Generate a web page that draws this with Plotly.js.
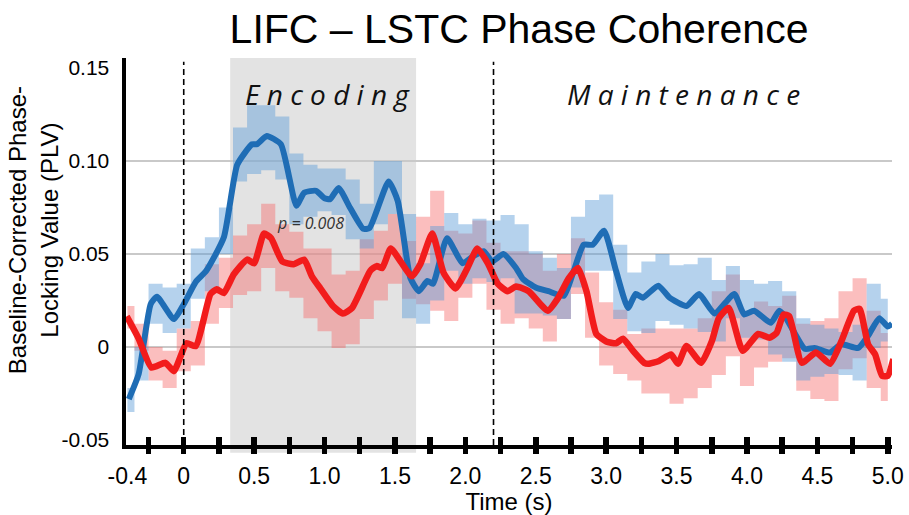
<!DOCTYPE html>
<html>
<head>
<meta charset="utf-8">
<script src="https://cdn.plot.ly/plotly-3.0.1.min.js"></script>
<style>html,body{margin:0;padding:0;background:#fff;}#chart{width:909px;height:515px;}</style>
</head>
<body>
<div id="chart"></div>
<script>
// Mean lines (time in s, PLV)
const blueT = [-0.39,-0.32,-0.235,-0.19,-0.07,0,0.085,0.16,0.285,0.38,0.485,0.52,0.59,0.69,0.80,0.855,0.94,1.0,1.04,1.10,1.18,1.275,1.32,1.455,1.52,1.61,1.67,1.73,1.77,1.87,1.98,2.06,2.13,2.19,2.27,2.36,2.41,2.50,2.59,2.70,2.77,2.84,2.905,2.985,3.07,3.155,3.21,3.26,3.37,3.45,3.57,3.66,3.77,3.91,3.98,4.05,4.17,4.23,4.27,4.41,4.48,4.59,4.67,4.79,4.86,4.94,5.0,5.03];
const blueV = [-0.028,-0.0145,0.023,0.027,0.015,0.023,0.035,0.041,0.059,0.098,0.109,0.109,0.1135,0.109,0.076,0.083,0.084,0.080,0.0795,0.0855,0.075,0.0635,0.064,0.089,0.0785,0.037,0.030,0.0355,0.034,0.0585,0.045,0.049,0.0515,0.046,0.050,0.0425,0.0365,0.032,0.030,0.0275,0.041,0.055,0.055,0.0625,0.041,0.021,0.0285,0.0265,0.033,0.0265,0.022,0.0285,0.018,0.0285,0.0175,0.0195,0.013,0.0195,0.0165,-0.001,-0.0005,-0.003,0.0015,-0.0005,0.006,0.0155,0.011,0.0125];
const redT = [-0.405,-0.32,-0.23,-0.13,-0.07,0.02,0.085,0.19,0.235,0.285,0.355,0.45,0.50,0.57,0.62,0.70,0.78,0.855,0.91,0.97,1.06,1.13,1.195,1.325,1.37,1.41,1.47,1.54,1.62,1.68,1.765,1.845,1.93,2.015,2.085,2.16,2.23,2.30,2.36,2.45,2.585,2.66,2.735,2.80,2.86,2.93,3.0,3.07,3.12,3.19,3.27,3.30,3.375,3.46,3.51,3.57,3.675,3.75,3.80,3.87,3.97,4.08,4.16,4.21,4.26,4.30,4.39,4.49,4.59,4.67,4.76,4.80,4.86,4.91,4.96,5.0,5.04];
const redV = [0.0165,0.0045,-0.011,-0.0085,-0.013,0.002,0.0005,0.0285,0.031,0.029,0.039,0.047,0.045,0.061,0.0585,0.046,0.0445,0.047,0.038,0.0315,0.022,0.018,0.021,0.041,0.0435,0.0425,0.053,0.046,0.038,0.0445,0.061,0.040,0.0315,0.0425,0.053,0.045,0.034,0.030,0.0325,0.030,0.0195,0.0265,0.037,0.0425,0.030,0.007,0.003,0.002,0.0045,-0.002,-0.0085,-0.009,-0.0075,-0.004,-0.009,0.0005,-0.0085,0.003,0.0155,0.021,-0.002,0.007,0.005,0.0075,0.0175,0.0165,-0.0085,-0.003,-0.009,0.003,0.0195,0.0205,0.0015,-0.004,-0.0155,-0.0155,-0.0065];

// Error bands (step bins)
const bandT = [-0.4,-0.3,-0.2,-0.1,0.0,0.1,0.2,0.3,0.4,0.5,0.6,0.7,0.8,0.9,1.0,1.1,1.2,1.3,1.4,1.5,1.6,1.7,1.8,1.9,2.0,2.1,2.2,2.3,2.4,2.5,2.6,2.7,2.8,2.9,3.0,3.1,3.2,3.3,3.4,3.5,3.6,3.7,3.8,3.9,4.0,4.1,4.2,4.3,4.4,4.5,4.6,4.7,4.8,4.9,5.0];
const blueUpper = [-0.022,0.0,0.034,0.032,0.034,0.053,0.059,0.075,0.118,0.130,0.130,0.124,0.104,0.098,0.096,0.096,0.090,0.077,0.100,0.100,0.0715,0.045,0.065,0.072,0.066,0.069,0.068,0.071,0.066,0.0515,0.048,0.0425,0.070,0.079,0.082,0.055,0.040,0.046,0.050,0.044,0.0445,0.048,0.036,0.0435,0.036,0.034,0.0355,0.030,0.0155,0.012,0.010,0.008,0.012,0.034,0.026];
const blueLower = [-0.035,-0.018,0.0125,0.0075,0.010,0.026,0.030,0.050,0.089,0.093,0.095,0.090,0.066,0.070,0.073,0.071,0.058,0.053,0.066,0.0715,0.0155,0.0125,0.025,0.041,0.034,0.037,0.035,0.037,0.018,0.018,0.017,0.015,0.032,0.041,0.041,0.015,0.0085,0.0075,0.014,0.012,0.010,0.008,0.003,0.0155,0.005,0.004,-0.004,-0.008,-0.018,-0.016,-0.0145,-0.015,-0.018,-0.0005,0.003];
const redUpper = [0.022,0.0125,0.000,-0.002,0.010,0.014,0.0445,0.048,0.060,0.066,0.077,0.066,0.062,0.053,0.053,0.039,0.041,0.058,0.0625,0.0715,0.057,0.070,0.084,0.0625,0.061,0.068,0.056,0.0515,0.0515,0.050,0.041,0.050,0.0585,0.040,0.024,0.020,0.007,0.010,0.010,0.010,0.010,0.0155,0.030,0.039,0.0195,0.0245,0.022,0.0275,0.0125,0.014,0.0155,0.030,0.037,0.0195,0.0075];
const redLower = [0.010,-0.002,-0.018,-0.022,-0.013,-0.010,0.0125,0.021,0.028,0.030,0.0425,0.030,0.0265,0.0155,0.0085,-0.0005,0.0015,0.015,0.025,0.034,0.026,0.023,0.0195,0.014,0.0265,0.034,0.020,0.0125,0.0155,0.010,0.003,0.015,0.0285,0.005,-0.010,-0.0145,-0.018,-0.025,-0.025,-0.0305,-0.0275,-0.022,-0.015,-0.005,-0.021,-0.011,-0.008,-0.006,-0.0235,-0.028,-0.029,-0.012,-0.006,-0.022,-0.029];

// Axis labels
const xTickVals = [-0.4,0,0.5,1.0,1.5,2.0,2.5,3.0,3.5,4.0,4.5,5.0];
const xTickText = ['-0.4','0','0.5','1.0','1.5','2.0','2.5','3.0','3.5','4.0','4.5','5.0'];
const yTickVals = [-0.05,0,0.05,0.10,0.15];
const yTickText = ['-0.05','0','0.05','0.10','0.15'];
const yGridVals = [0,0.05,0.10];
const encodingWindow = [0.33,1.65];
const eventTimes = [0,2.2];

const xRange = [-0.41,5.03];
const yRange = [-0.0527,0.1554];
const narrow = '"Liberation Sans Narrow", "Arial Narrow", "Liberation Sans", Arial, sans-serif';
const sans = '"Liberation Sans", Arial, sans-serif';

const BLUE_BAND = 'rgba(92,156,214,0.45)';
const RED_BAND = 'rgba(246,100,100,0.42)';

const traces = [
  {x: bandT, y: redLower, mode:'lines', line:{width:0, shape:'hvh'}, hoverinfo:'skip', showlegend:false},
  {x: bandT, y: redUpper, mode:'lines', line:{width:0, shape:'hvh'}, fill:'tonexty', fillcolor:RED_BAND, hoverinfo:'skip', showlegend:false},
  {x: bandT, y: blueLower, mode:'lines', line:{width:0, shape:'hvh'}, hoverinfo:'skip', showlegend:false},
  {x: bandT, y: blueUpper, mode:'lines', line:{width:0, shape:'hvh'}, fill:'tonexty', fillcolor:BLUE_BAND, hoverinfo:'skip', showlegend:false},
  {x: blueT, y: blueV, mode:'lines', line:{color:'#1f6db5', width:6, shape:'spline', smoothing:0.5}, showlegend:false},
  {x: redT, y: redV, mode:'lines', line:{color:'#f21c1c', width:6.5, shape:'spline', smoothing:0.5}, showlegend:false},
  {x: [], y: [], xaxis:'x2', yaxis:'y', showlegend:false},
  {x: [], y: [], xaxis:'x3', yaxis:'y', showlegend:false},
  {x: [], y: [], xaxis:'x', yaxis:'y2', showlegend:false}
];

const shapes = [
  {type:'rect', xref:'x', yref:'paper', x0:encodingWindow[0], x1:encodingWindow[1], y0:-0.02, y1:1, fillcolor:'#e3e3e3', line:{width:0}, layer:'below'}
];
eventTimes.forEach(t => shapes.push({type:'line', xref:'x', yref:'paper', x0:t, x1:t, y0:0, y1:0.99, line:{color:'#000', width:1.6, dash:'6px,4px'}, layer:'above'}));

const layout = {
  width:909, height:515,
  margin:{l:126, r:17, t:58, b:70},
  paper_bgcolor:'#fff', plot_bgcolor:'rgba(0,0,0,0)',
  title:{text:'LIFC – LSTC Phase Coherence', font:{family:sans, size:41, color:'#000'}, x:0.571, xref:'container', y:0.944, yanchor:'middle'},
  xaxis:{range:xRange, tickmode:'array', tickvals:xTickVals, ticktext:xTickText, ticks:'', showgrid:false, zeroline:false,
         showline:true, linecolor:'#000', linewidth:4, tickfont:{family:narrow, size:23, color:'#000'}, ticklabelstandoff:7,
         title:{text:'Time (s)', font:{family:sans, size:24, color:'#000'}, standoff:0}},
  xaxis2:{range:xRange, overlaying:'x', anchor:'y', side:'bottom', tickmode:'linear', tick0:0, dtick:0.25, ticks:'outside', ticklen:8, tickwidth:5.5, tickcolor:'#000', showticklabels:false, showgrid:false, zeroline:false, showline:false},
  xaxis3:{range:xRange, overlaying:'x', anchor:'y', side:'bottom', tickmode:'linear', tick0:0, dtick:0.25, ticks:'inside', ticklen:8, tickwidth:5.5, tickcolor:'#000', showticklabels:false, showgrid:false, zeroline:false, showline:false},
  yaxis:{range:yRange, tickmode:'array', tickvals:yTickVals, ticktext:yTickText, ticks:'', showgrid:false, zeroline:false,
         showline:true, linecolor:'#000', linewidth:4.5, tickfont:{family:narrow, size:21, color:'#000'}, ticklabelstandoff:8},
  yaxis2:{range:yRange, overlaying:'y', anchor:'x', tickmode:'array', tickvals:yGridVals, showticklabels:false, ticks:'', showgrid:true, gridcolor:'#c9c9c9', gridwidth:2, zeroline:false, showline:false},
  shapes:shapes,
  annotations:[
    {text:'Baseline-Corrected Phase-<br>Locking Value (PLV)', xref:'paper', yref:'paper', x:-0.121, y:0.556, xanchor:'center', yanchor:'middle', textangle:-90, showarrow:false, font:{family:sans, size:24, color:'#000'}},
    {text:'E n c o d i n g', x:1.022, y:0.136, xref:'x', yref:'y', showarrow:false, font:{family:'"Open Sans", sans-serif', size:28, color:'#111', style:'italic'}},
    {text:'M a i n t e n a n c e', x:3.55, y:0.136, xref:'x', yref:'y', showarrow:false, font:{family:'"Open Sans", sans-serif', size:28, color:'#111', style:'italic'}},
    {text:'p = 0.008', x:0.9, y:0.0667, xref:'x', yref:'y', showarrow:false, font:{family:'"Open Sans", sans-serif', size:16, color:'#333', style:'italic'}}
  ],
  showlegend:false
};

Plotly.newPlot('chart', traces, layout, {displayModeBar:false, staticPlot:true});
</script>
</body>
</html>
